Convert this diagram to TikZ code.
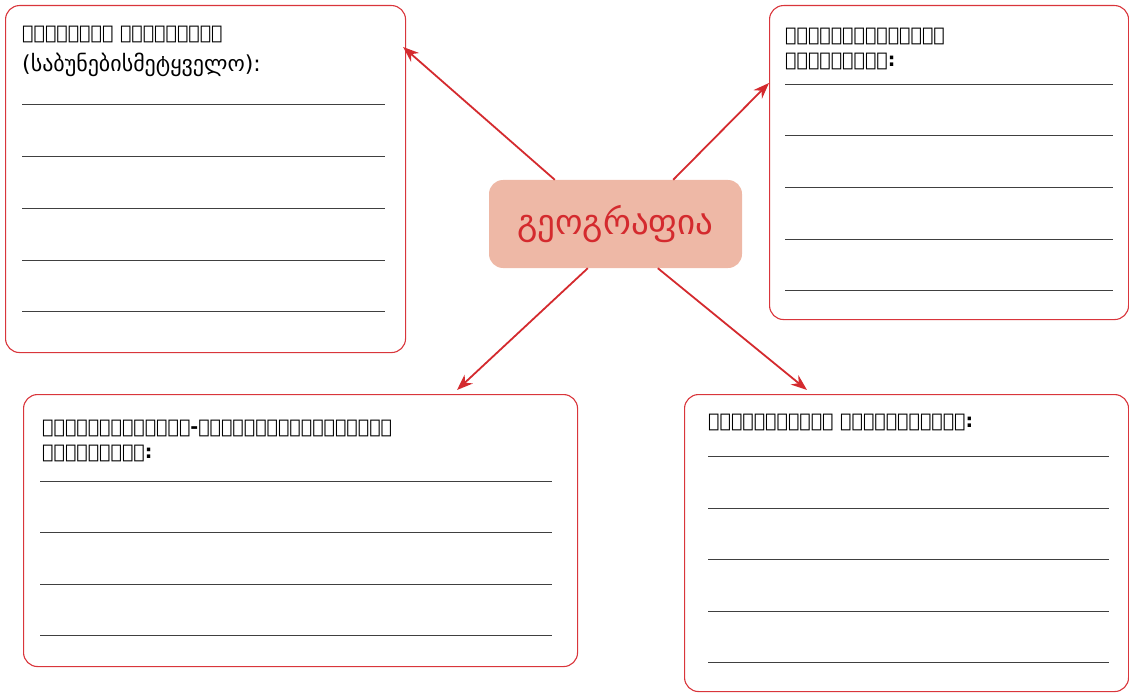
\documentclass[tikz,border=0pt]{standalone}
\usepackage{fontspec}
\setmainfont{DejaVu Sans}
\usetikzlibrary{arrows.meta}
\definecolor{boxred}{HTML}{D9353B}
\definecolor{arrowred}{HTML}{D42A2E}
\definecolor{geofill}{HTML}{EEB8A6}

\begin{document}
\begin{tikzpicture}[x=1pt,y=-1pt]
	\tikzstyle{card} = [draw=boxred, line width=1.1pt, rounded corners=14pt, anchor=north west, inner sep=0pt]
	\tikzstyle{head} = [anchor=base west, inner sep=0pt, font=\bfseries\fontsize{19}{25}\selectfont]
	\tikzstyle{rule} = [draw=black!75, line width=0.7pt]
	\tikzstyle{link} = [draw=arrowred, line width=1.8pt, -{Stealth[length=16pt,width=12pt]}]
	\useasboundingbox (0,0) rectangle (1129,695);

	% boxes
	\node [card, minimum width=400, minimum height=347] (phys) at (5,5) {};
	\node [card, minimum width=359, minimum height=314] (soc) at (769,5) {};
	\node [card, minimum width=554, minimum height=272] (mix) at (23,394) {};
	\node [card, minimum width=444, minimum height=297] (cart) at (684,394) {};

	% centre
	\node [fill=geofill, rounded corners=14pt, minimum width=253, minimum height=88,
		text=arrowred, font=\fontsize{35}{40}\selectfont] (geo) at (615.5,224) {გეოგრაფია};

	% titles
	\node [head] (physa) at (22,40) {ᲤᲘᲖᲘᲙᲣᲠᲘ ᲒᲔᲝᲒᲠᲐᲤᲘᲐ};
	\node [head, font=\fontsize{22}{26}\selectfont] (physb) at (22,72) {(საბუნებისმეტყველო):};
	\node [head] (soca) at (785,42) {ᲡᲐᲖᲝᲒᲐᲓᲝᲔᲑᲠᲘᲕᲘ};
	\node [head] (socb) at (785,67) {ᲒᲔᲝᲒᲠᲐᲤᲘᲐ:};
	\node [head] (mixa) at (42,433) {ᲡᲐᲖᲝᲒᲐᲓᲝᲔᲑᲠᲘᲕ-ᲡᲐᲑᲣᲜᲔᲑᲘᲡᲛᲔᲢᲧᲕᲔᲚᲝ};
	\node [head] (mixb) at (42,458) {ᲒᲔᲝᲒᲠᲐᲤᲘᲐ:};
	\node [head] (carta) at (708,427) {ᲒᲔᲝᲒᲠᲐᲤᲘᲣᲚᲘ ᲙᲐᲠᲢᲝᲒᲠᲐᲤᲘᲐ:};

	% lines to write on
	\foreach \y in {104,156,208,260,311}
		\draw [rule] (22,\y) -- (385,\y);
	\foreach \y in {84,135,187,239,290}
		\draw [rule] (785,\y) -- (1113,\y);
	\foreach \y in {481,532,584,635}
		\draw [rule] (40,\y) -- (552,\y);
	\foreach \y in {456,508,559,611,662}
		\draw [rule] (708,\y) -- (1109,\y);

	% arrows
	\draw [link] ([xshift=66pt]geo.north west) -- ([xshift=-3pt,yshift=-42pt]phys.north east);
	\draw [link] ([xshift=-69pt]geo.north east) -- ([yshift=-78pt]soc.north west);
	\draw [link] ([xshift=99pt]geo.south west) -- ([xshift=434pt,yshift=4pt]mix.north west);
	\draw [link] ([xshift=169pt]geo.south west) -- ([xshift=123pt,yshift=4pt]cart.north west);
\end{tikzpicture}
\end{document}
